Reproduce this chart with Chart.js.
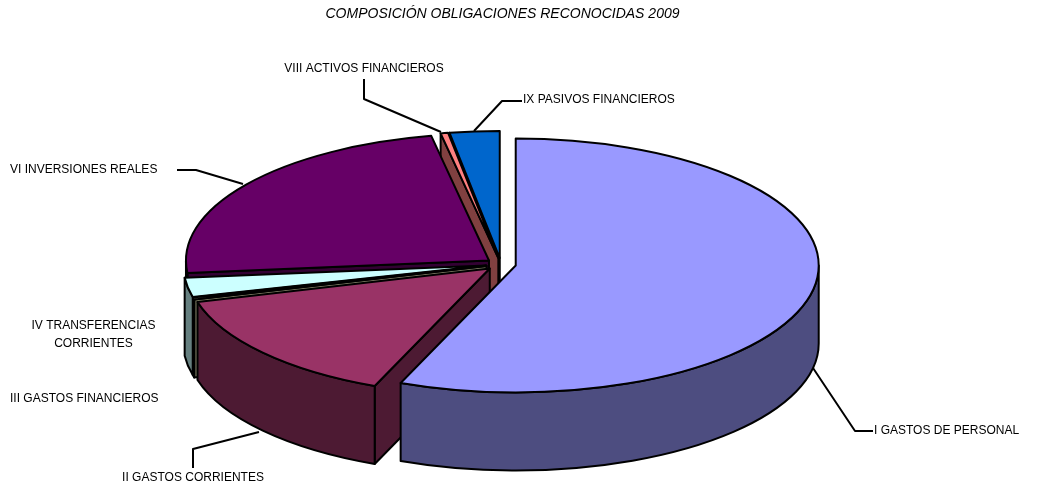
<!DOCTYPE html>
<html lang="es">
<head>
<meta charset="utf-8">
<title>Composición obligaciones reconocidas 2009</title>
<script src="https://cdn.jsdelivr.net/npm/chart.js@4"></script>
<style>
html,body{margin:0;padding:0;background:#fff;}
canvas{display:block;}
</style>
</head>
<body>
<canvas id="c" width="1040" height="486"></canvas>
<script>
const chartTitle = "COMPOSICIÓN OBLIGACIONES RECONOCIDAS 2009";
const categories = ["I GASTOS DE PERSONAL","II GASTOS CORRIENTES","III GASTOS FINANCIEROS","IV TRANSFERENCIAS CORRIENTES","VI INVERSIONES REALES","VIII ACTIVOS FINANCIEROS","IX PASIVOS FINANCIEROS"];
const shares = [56.2, 14.55, 0.25, 2.45, 23.5, 0.4, 2.65];
const sliceColors = ["#9999FF","#993366","#FFFFCC","#CCFFFF","#660066","#FF8080","#0066CC"];

const FONT = '"Liberation Sans", Arial, sans-serif';
const PIE = {cx:501, cy:264.3, rx:303, ry:127, depth:78, explode:15};

// Label anchors and leader lines, in page pixels, keyed by category index
const LABELS = [
  {lines:[{t:categories[0],x:874,y:431}], align:"left", leader:[[813,368],[855,431],[873,431]]},
  {lines:[{t:categories[1],x:193,y:478}], align:"center", leader:[[259,432],[193,449],[193,468]]},
  {lines:[{t:categories[2],x:10,y:399}], align:"left"},
  {lines:[{t:"IV TRANSFERENCIAS",x:93.5,y:326},{t:"CORRIENTES",x:93.5,y:344}], align:"center"},
  {lines:[{t:categories[4],x:10,y:170}], align:"left", leader:[[243,184],[196,170],[177,170]]},
  {lines:[{t:categories[5],x:364,y:69}], align:"center", leader:[[441,132],[364,99],[364,79]]},
  {lines:[{t:categories[6],x:523,y:100}], align:"left", leader:[[474,131],[502,101],[522,101]]}
];

function halfColor(hex){
  const n = parseInt(hex.slice(1),16);
  const r=(n>>16)&255,g=(n>>8)&255,b=n&255;
  return `rgb(${Math.round(r/2)},${Math.round(g/2)},${Math.round(b/2)})`;
}

const pie3d = {
  id:"pie3d",
  beforeDatasetsDraw(chart){
    const ctx = chart.ctx;
    const arcs = chart.getDatasetMeta(0).data;
    const {rx,ry,depth,explode,cx,cy} = PIE;
    for(let i=arcs.length-1;i>=0;i--){
      const arc = arcs[i];
      const a0 = arc.startAngle, a1 = arc.endAngle, mid=(a0+a1)/2;
      const ex = cx + Math.cos(mid)*explode;
      const ey = cy + Math.sin(mid)*explode*ry/rx;
      const px = a=>ex+Math.cos(a)*rx, py = a=>ey+Math.sin(a)*ry;
      const top = sliceColors[i], wall = halfColor(top);
      ctx.save();
      ctx.lineWidth = 2; ctx.strokeStyle = "#000"; ctx.lineJoin = "round";
      ctx.fillStyle = wall;
      const cut = a=>{
        ctx.beginPath();
        ctx.moveTo(ex,ey); ctx.lineTo(px(a),py(a));
        ctx.lineTo(px(a),py(a)+depth); ctx.lineTo(ex,ey+depth);
        ctx.closePath(); ctx.fill(); ctx.stroke();
      };
      if(Math.cos(a0)<0) cut(a0);
      if(Math.cos(a1)>0) cut(a1);
      // outer wall: the part of the rim facing the viewer
      const spans = [[0,Math.PI],[2*Math.PI,3*Math.PI],[-2*Math.PI,-Math.PI]];
      for(const [lo,hi] of spans){
        const s=Math.max(a0,lo), e=Math.min(a1,hi);
        if(e<=s) continue;
        ctx.beginPath();
        ctx.ellipse(ex,ey,rx,ry,0,s,e);
        ctx.lineTo(px(e),py(e)+depth);
        ctx.ellipse(ex,ey+depth,rx,ry,0,e,s,true);
        ctx.closePath(); ctx.fill(); ctx.stroke();
      }
      // top face: the library's own arc element, squashed into place
      ctx.save();
      ctx.translate(ex,ey);
      ctx.scale(rx/arc.outerRadius, ry/arc.outerRadius);
      ctx.translate(-arc.x,-arc.y);
      arc.draw(ctx);
      ctx.restore();
      ctx.beginPath();
      ctx.moveTo(ex,ey); ctx.lineTo(px(a0),py(a0));
      ctx.ellipse(ex,ey,rx,ry,0,a0,a1);
      ctx.closePath(); ctx.stroke();
      ctx.restore();
    }
    return false;
  },
  afterDraw(chart){
    const ctx = chart.ctx;
    ctx.save();
    ctx.lineWidth = 2; ctx.strokeStyle = "#000"; ctx.lineJoin="round";
    ctx.fillStyle = "#000"; ctx.font = "12px "+FONT; ctx.textBaseline = "middle";
    for(const lab of LABELS){
      if(lab.leader){
        ctx.beginPath();
        lab.leader.forEach((p,i)=> i?ctx.lineTo(p[0],p[1]):ctx.moveTo(p[0],p[1]));
        ctx.stroke();
      }
      ctx.textAlign = lab.align;
      for(const l of lab.lines) ctx.fillText(l.t,l.x,l.y);
    }
    ctx.restore();
  }
};

new Chart(document.getElementById("c"),{
  type:"pie",
  data:{labels:categories,datasets:[{data:shares,backgroundColor:sliceColors,borderWidth:0,offset:0}]},
  options:{
    responsive:false,
    animation:false,
    layout:{padding:{right:35}},
    plugins:{
      legend:{display:false},
      tooltip:{enabled:false},
      title:{display:true,text:chartTitle,color:"#000",
        font:{family:FONT,size:14,style:"italic",weight:"normal"},
        padding:{top:6,bottom:10}}
    }
  },
  plugins:[pie3d]
});
</script>
</body>
</html>
